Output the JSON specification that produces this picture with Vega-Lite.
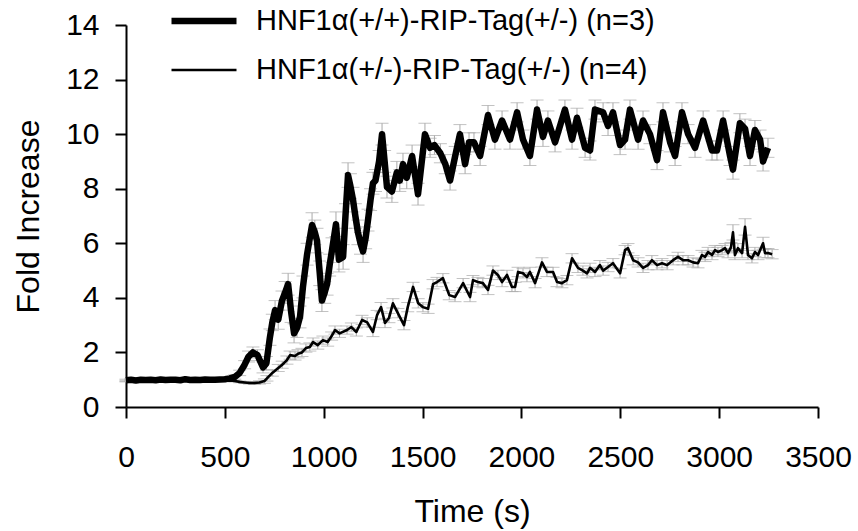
{
  "$schema": "https://vega.github.io/schema/vega-lite/v6.json",
  "width": 692,
  "height": 382,
  "autosize": "none",
  "padding": {"left": 126, "top": 25, "right": 40, "bottom": 124},
  "background": "white",
  "config": {
    "view": {"stroke": null},
    "font": "Liberation Sans",
    "axis": {
      "domainColor": "black", "tickColor": "black", "domainWidth": 2, "tickWidth": 2,
      "labelColor": "black", "titleColor": "black", "labelFont": "Liberation Sans", "titleFont": "Liberation Sans",
      "labelFontSize": 30, "titleFontSize": 32, "titleFontWeight": "normal", "grid": false, "tickSize": 11
    },
    "legend": {"labelFont": "Liberation Sans", "labelFontSize": 29, "labelColor": "black", "labelLimit": 0}
  },
  "data": {"values": [
    {"g":"A","t":0,"v":0.98,"e":0.04},{"g":"A","t":25,"v":1.0,"e":0.04},{"g":"A","t":50,"v":0.97,"e":0.04},{"g":"A","t":75,"v":1.0,"e":0.04},
    {"g":"A","t":100,"v":0.99,"e":0.04},{"g":"A","t":125,"v":1.0,"e":0.04},{"g":"A","t":150,"v":0.98,"e":0.04},{"g":"A","t":175,"v":1.01,"e":0.04},
    {"g":"A","t":200,"v":0.99,"e":0.04},{"g":"A","t":225,"v":1.0,"e":0.04},{"g":"A","t":250,"v":1.0,"e":0.04},{"g":"A","t":275,"v":0.98,"e":0.04},
    {"g":"A","t":300,"v":1.02,"e":0.04},{"g":"A","t":325,"v":0.99,"e":0.04},{"g":"A","t":350,"v":1.0,"e":0.04},{"g":"A","t":375,"v":0.99,"e":0.04},
    {"g":"A","t":400,"v":1.01,"e":0.04},{"g":"A","t":425,"v":1.0,"e":0.04},{"g":"A","t":450,"v":1.0,"e":0.04},{"g":"A","t":475,"v":1.01,"e":0.05},
    {"g":"A","t":500,"v":1.02,"e":0.05},{"g":"A","t":525,"v":1.05,"e":0.06},{"g":"A","t":550,"v":1.1,"e":0.08},{"g":"A","t":575,"v":1.25,"e":0.1},
    {"g":"A","t":600,"v":1.55,"e":0.15},{"g":"A","t":620,"v":1.85,"e":0.2},{"g":"A","t":642,"v":2.0,"e":0.2},{"g":"A","t":665,"v":1.9,"e":0.2},
    {"g":"A","t":693,"v":1.45,"e":0.2},{"g":"A","t":710,"v":1.6,"e":0.25},{"g":"A","t":728,"v":2.56,"e":0.3},{"g":"A","t":740,"v":3.1,"e":0.3},
    {"g":"A","t":754,"v":3.55,"e":0.35},{"g":"A","t":770,"v":3.2,"e":0.35},{"g":"A","t":789,"v":3.9,"e":0.35},{"g":"A","t":805,"v":4.2,"e":0.4},
    {"g":"A","t":820,"v":4.5,"e":0.4},{"g":"A","t":835,"v":3.5,"e":0.4},{"g":"A","t":850,"v":2.7,"e":0.35},{"g":"A","t":865,"v":2.9,"e":0.35},
    {"g":"A","t":880,"v":3.3,"e":0.4},{"g":"A","t":895,"v":4.4,"e":0.4},{"g":"A","t":916,"v":5.6,"e":0.4},{"g":"A","t":941,"v":6.67,"e":0.45},
    {"g":"A","t":955,"v":6.4,"e":0.45},{"g":"A","t":966,"v":6.1,"e":0.45},{"g":"A","t":980,"v":4.9,"e":0.45},{"g":"A","t":991,"v":3.9,"e":0.4},
    {"g":"A","t":1005,"v":4.2,"e":0.4},{"g":"A","t":1017,"v":4.5,"e":0.4},{"g":"A","t":1030,"v":5.2,"e":0.4},{"g":"A","t":1042,"v":5.75,"e":0.45},
    {"g":"A","t":1062,"v":6.7,"e":0.45},{"g":"A","t":1077,"v":5.4,"e":0.45},{"g":"A","t":1098,"v":5.5,"e":0.45},{"g":"A","t":1110,"v":7.0,"e":0.45},
    {"g":"A","t":1123,"v":8.5,"e":0.45},{"g":"A","t":1135,"v":8.1,"e":0.45},{"g":"A","t":1148,"v":7.6,"e":0.45},{"g":"A","t":1160,"v":7.0,"e":0.45},
    {"g":"A","t":1173,"v":6.4,"e":0.45},{"g":"A","t":1186,"v":6.0,"e":0.4},{"g":"A","t":1199,"v":5.7,"e":0.4},{"g":"A","t":1212,"v":6.2,"e":0.4},
    {"g":"A","t":1224,"v":6.85,"e":0.4},{"g":"A","t":1237,"v":7.6,"e":0.4},{"g":"A","t":1249,"v":8.2,"e":0.4},{"g":"A","t":1262,"v":8.3,"e":0.4},
    {"g":"A","t":1280,"v":9.0,"e":0.4},{"g":"A","t":1295,"v":10.0,"e":0.4},{"g":"A","t":1308,"v":9.0,"e":0.4},{"g":"A","t":1320,"v":8.06,"e":0.4},
    {"g":"A","t":1345,"v":7.9,"e":0.4},{"g":"A","t":1370,"v":8.6,"e":0.4},{"g":"A","t":1385,"v":8.3,"e":0.4},{"g":"A","t":1401,"v":8.9,"e":0.4},
    {"g":"A","t":1420,"v":8.4,"e":0.4},{"g":"A","t":1447,"v":9.2,"e":0.4},{"g":"A","t":1477,"v":7.8,"e":0.4},{"g":"A","t":1512,"v":10.0,"e":0.4},
    {"g":"A","t":1538,"v":9.5,"e":0.35},{"g":"A","t":1560,"v":9.6,"e":0.35},{"g":"A","t":1590,"v":9.3,"e":0.35},{"g":"A","t":1615,"v":8.9,"e":0.35},
    {"g":"A","t":1639,"v":8.3,"e":0.35},{"g":"A","t":1665,"v":9.2,"e":0.35},{"g":"A","t":1689,"v":10.0,"e":0.35},{"g":"A","t":1715,"v":8.9,"e":0.35},
    {"g":"A","t":1735,"v":9.7,"e":0.35},{"g":"A","t":1760,"v":9.7,"e":0.35},{"g":"A","t":1791,"v":9.2,"e":0.35},{"g":"A","t":1831,"v":10.7,"e":0.35},
    {"g":"A","t":1866,"v":9.8,"e":0.35},{"g":"A","t":1902,"v":10.5,"e":0.35},{"g":"A","t":1942,"v":9.8,"e":0.35},{"g":"A","t":1978,"v":10.8,"e":0.35},
    {"g":"A","t":2008,"v":9.8,"e":0.35},{"g":"A","t":2043,"v":9.2,"e":0.35},{"g":"A","t":2079,"v":10.9,"e":0.35},{"g":"A","t":2109,"v":9.9,"e":0.35},
    {"g":"A","t":2134,"v":10.5,"e":0.35},{"g":"A","t":2170,"v":9.7,"e":0.35},{"g":"A","t":2220,"v":10.9,"e":0.35},{"g":"A","t":2256,"v":9.8,"e":0.35},
    {"g":"A","t":2281,"v":10.6,"e":0.35},{"g":"A","t":2322,"v":9.5,"e":0.35},{"g":"A","t":2347,"v":9.4,"e":0.35},{"g":"A","t":2372,"v":10.9,"e":0.35},
    {"g":"A","t":2413,"v":10.8,"e":0.35},{"g":"A","t":2438,"v":10.3,"e":0.35},{"g":"A","t":2463,"v":10.8,"e":0.35},{"g":"A","t":2499,"v":9.6,"e":0.35},
    {"g":"A","t":2524,"v":9.8,"e":0.35},{"g":"A","t":2549,"v":10.9,"e":0.35},{"g":"A","t":2590,"v":9.8,"e":0.35},{"g":"A","t":2615,"v":10.5,"e":0.35},
    {"g":"A","t":2650,"v":10.0,"e":0.35},{"g":"A","t":2686,"v":9.05,"e":0.35},{"g":"A","t":2716,"v":10.8,"e":0.35},{"g":"A","t":2752,"v":9.7,"e":0.35},
    {"g":"A","t":2777,"v":9.2,"e":0.35},{"g":"A","t":2812,"v":10.8,"e":0.35},{"g":"A","t":2843,"v":10.0,"e":0.35},{"g":"A","t":2878,"v":9.5,"e":0.35},
    {"g":"A","t":2919,"v":10.5,"e":0.35},{"g":"A","t":2964,"v":9.4,"e":0.35},{"g":"A","t":2989,"v":9.4,"e":0.35},{"g":"A","t":3020,"v":10.5,"e":0.35},
    {"g":"A","t":3055,"v":9.2,"e":0.35},{"g":"A","t":3070,"v":8.7,"e":0.35},{"g":"A","t":3105,"v":10.4,"e":0.35},{"g":"A","t":3131,"v":10.2,"e":0.35},
    {"g":"A","t":3156,"v":9.2,"e":0.35},{"g":"A","t":3181,"v":10.15,"e":0.35},{"g":"A","t":3207,"v":9.8,"e":0.35},{"g":"A","t":3222,"v":9.0,"e":0.35},
    {"g":"A","t":3247,"v":9.5,"e":0.35},
    {"g":"B","t":0,"v":0.95,"e":0.03},{"g":"B","t":25,"v":0.97,"e":0.03},{"g":"B","t":50,"v":0.95,"e":0.03},{"g":"B","t":75,"v":0.96,"e":0.03},
    {"g":"B","t":100,"v":0.97,"e":0.03},{"g":"B","t":125,"v":0.96,"e":0.03},{"g":"B","t":150,"v":0.97,"e":0.03},{"g":"B","t":175,"v":0.95,"e":0.03},
    {"g":"B","t":200,"v":0.96,"e":0.03},{"g":"B","t":225,"v":0.97,"e":0.03},{"g":"B","t":250,"v":0.96,"e":0.03},{"g":"B","t":275,"v":0.98,"e":0.03},
    {"g":"B","t":300,"v":0.97,"e":0.03},{"g":"B","t":325,"v":0.96,"e":0.03},{"g":"B","t":350,"v":0.97,"e":0.03},{"g":"B","t":375,"v":0.98,"e":0.03},
    {"g":"B","t":400,"v":0.96,"e":0.03},{"g":"B","t":425,"v":0.95,"e":0.03},{"g":"B","t":450,"v":0.97,"e":0.03},{"g":"B","t":475,"v":0.96,"e":0.03},
    {"g":"B","t":500,"v":0.96,"e":0.03},{"g":"B","t":525,"v":0.97,"e":0.03},{"g":"B","t":550,"v":0.95,"e":0.03},{"g":"B","t":575,"v":0.92,"e":0.03},
    {"g":"B","t":600,"v":0.9,"e":0.04},{"g":"B","t":625,"v":0.88,"e":0.04},{"g":"B","t":650,"v":0.88,"e":0.05},{"g":"B","t":675,"v":0.9,"e":0.06},
    {"g":"B","t":700,"v":0.95,"e":0.08},{"g":"B","t":713,"v":1.05,"e":0.1},{"g":"B","t":740,"v":1.25,"e":0.12},{"g":"B","t":770,"v":1.43,"e":0.13},
    {"g":"B","t":790,"v":1.55,"e":0.13},{"g":"B","t":814,"v":1.72,"e":0.15},{"g":"B","t":830,"v":1.9,"e":0.15},{"g":"B","t":855,"v":1.87,"e":0.15},
    {"g":"B","t":870,"v":1.95,"e":0.15},{"g":"B","t":890,"v":2.0,"e":0.15},{"g":"B","t":910,"v":2.16,"e":0.15},{"g":"B","t":930,"v":2.2,"e":0.15},
    {"g":"B","t":946,"v":2.38,"e":0.15},{"g":"B","t":970,"v":2.27,"e":0.15},{"g":"B","t":996,"v":2.45,"e":0.15},{"g":"B","t":1020,"v":2.38,"e":0.15},
    {"g":"B","t":1040,"v":2.6,"e":0.15},{"g":"B","t":1057,"v":2.82,"e":0.15},{"g":"B","t":1080,"v":2.7,"e":0.15},{"g":"B","t":1118,"v":2.82,"e":0.15},
    {"g":"B","t":1140,"v":2.93,"e":0.15},{"g":"B","t":1165,"v":2.75,"e":0.15},{"g":"B","t":1194,"v":3.19,"e":0.17},{"g":"B","t":1220,"v":3.1,"e":0.17},
    {"g":"B","t":1249,"v":2.75,"e":0.17},{"g":"B","t":1270,"v":3.37,"e":0.17},{"g":"B","t":1290,"v":3.66,"e":0.17},{"g":"B","t":1310,"v":3.08,"e":0.17},
    {"g":"B","t":1330,"v":3.26,"e":0.17},{"g":"B","t":1350,"v":3.8,"e":0.17},{"g":"B","t":1375,"v":3.44,"e":0.17},{"g":"B","t":1406,"v":3.0,"e":0.17},
    {"g":"B","t":1425,"v":3.66,"e":0.17},{"g":"B","t":1452,"v":4.4,"e":0.17},{"g":"B","t":1478,"v":3.8,"e":0.17},{"g":"B","t":1502,"v":3.66,"e":0.17},
    {"g":"B","t":1528,"v":3.6,"e":0.17},{"g":"B","t":1553,"v":4.5,"e":0.17},{"g":"B","t":1573,"v":4.58,"e":0.17},{"g":"B","t":1603,"v":4.72,"e":0.17},
    {"g":"B","t":1635,"v":4.1,"e":0.17},{"g":"B","t":1664,"v":4.03,"e":0.17},{"g":"B","t":1705,"v":4.54,"e":0.17},{"g":"B","t":1740,"v":4.03,"e":0.17},
    {"g":"B","t":1755,"v":4.65,"e":0.17},{"g":"B","t":1780,"v":4.58,"e":0.17},{"g":"B","t":1805,"v":4.54,"e":0.17},{"g":"B","t":1831,"v":4.29,"e":0.17},
    {"g":"B","t":1856,"v":5.0,"e":0.17},{"g":"B","t":1881,"v":4.84,"e":0.17},{"g":"B","t":1902,"v":4.58,"e":0.17},{"g":"B","t":1927,"v":4.84,"e":0.17},
    {"g":"B","t":1952,"v":4.4,"e":0.17},{"g":"B","t":1968,"v":4.4,"e":0.17},{"g":"B","t":1983,"v":4.95,"e":0.17},{"g":"B","t":2008,"v":4.9,"e":0.17},
    {"g":"B","t":2028,"v":4.76,"e":0.17},{"g":"B","t":2043,"v":4.95,"e":0.17},{"g":"B","t":2069,"v":4.54,"e":0.17},{"g":"B","t":2104,"v":5.3,"e":0.17},
    {"g":"B","t":2129,"v":4.95,"e":0.17},{"g":"B","t":2160,"v":4.95,"e":0.17},{"g":"B","t":2180,"v":4.58,"e":0.17},{"g":"B","t":2205,"v":4.54,"e":0.17},
    {"g":"B","t":2230,"v":4.65,"e":0.17},{"g":"B","t":2256,"v":5.45,"e":0.17},{"g":"B","t":2286,"v":5.1,"e":0.17},{"g":"B","t":2311,"v":5.0,"e":0.17},
    {"g":"B","t":2332,"v":4.9,"e":0.17},{"g":"B","t":2347,"v":5.1,"e":0.17},{"g":"B","t":2372,"v":4.95,"e":0.17},{"g":"B","t":2397,"v":5.2,"e":0.17},
    {"g":"B","t":2413,"v":5.0,"e":0.17},{"g":"B","t":2438,"v":5.13,"e":0.17},{"g":"B","t":2463,"v":5.27,"e":0.17},{"g":"B","t":2499,"v":4.9,"e":0.17},
    {"g":"B","t":2524,"v":5.75,"e":0.17},{"g":"B","t":2539,"v":5.82,"e":0.17},{"g":"B","t":2565,"v":5.38,"e":0.17},{"g":"B","t":2590,"v":5.3,"e":0.17},
    {"g":"B","t":2615,"v":5.1,"e":0.17},{"g":"B","t":2640,"v":5.2,"e":0.17},{"g":"B","t":2660,"v":5.38,"e":0.17},{"g":"B","t":2686,"v":5.2,"e":0.17},
    {"g":"B","t":2711,"v":5.27,"e":0.17},{"g":"B","t":2737,"v":5.2,"e":0.17},{"g":"B","t":2767,"v":5.38,"e":0.17},{"g":"B","t":2792,"v":5.5,"e":0.17},
    {"g":"B","t":2817,"v":5.38,"e":0.17},{"g":"B","t":2843,"v":5.38,"e":0.17},{"g":"B","t":2868,"v":5.3,"e":0.17},{"g":"B","t":2893,"v":5.27,"e":0.17},
    {"g":"B","t":2913,"v":5.57,"e":0.17},{"g":"B","t":2929,"v":5.5,"e":0.17},{"g":"B","t":2944,"v":5.68,"e":0.17},{"g":"B","t":2964,"v":5.57,"e":0.17},
    {"g":"B","t":2979,"v":5.75,"e":0.17},{"g":"B","t":2994,"v":5.68,"e":0.17},{"g":"B","t":3015,"v":5.75,"e":0.17},{"g":"B","t":3030,"v":5.82,"e":0.17},
    {"g":"B","t":3045,"v":5.64,"e":0.17},{"g":"B","t":3060,"v":5.86,"e":0.17},{"g":"B","t":3070,"v":6.4,"e":0.28},{"g":"B","t":3080,"v":5.57,"e":0.17},
    {"g":"B","t":3095,"v":5.82,"e":0.17},{"g":"B","t":3116,"v":5.64,"e":0.17},{"g":"B","t":3131,"v":6.6,"e":0.3},{"g":"B","t":3146,"v":5.57,"e":0.17},
    {"g":"B","t":3166,"v":5.45,"e":0.17},{"g":"B","t":3181,"v":5.68,"e":0.17},{"g":"B","t":3197,"v":5.57,"e":0.17},{"g":"B","t":3222,"v":6.0,"e":0.22},
    {"g":"B","t":3232,"v":5.64,"e":0.17},{"g":"B","t":3247,"v":5.64,"e":0.17},{"g":"B","t":3268,"v":5.6,"e":0.17}
  ]},
  "layer": [
    {
      "mark": {"type": "errorbar", "color": "#a8a8a8", "thickness": 1, "ticks": {"size": 13, "color": "#a8a8a8", "strokeWidth": 1}},
      "encoding": {
        "x": {"field": "t", "type": "quantitative", "title": "Time (s)"},
        "y": {"field": "v", "type": "quantitative", "title": "Fold Increase"},
        "yError": {"field": "e"},
        "detail": {"field": "g"}
      }
    },
    {
      "mark": {"type": "line", "color": "black", "strokeJoin": "round", "strokeCap": "butt"},
      "encoding": {
        "x": {"field": "t", "type": "quantitative", "title": "Time (s)",
              "scale": {"domain": [0, 3500], "nice": false, "zero": true},
              "axis": {"values": [0, 500, 1000, 1500, 2000, 2500, 3000, 3500], "format": "d", "labelPadding": 24, "titlePadding": 24, "labelFlush": false, "labelOverlap": false}},
        "y": {"field": "v", "type": "quantitative", "title": "Fold Increase",
              "scale": {"domain": [0, 14], "nice": false},
              "axis": {"values": [0, 2, 4, 6, 8, 10, 12, 14], "labelPadding": 16, "titlePadding": 20}},
        "detail": {"field": "g"},
        "strokeWidth": {
          "field": "g", "type": "nominal",
          "scale": {"domain": ["A", "B"], "range": [6.5, 2.6]},
          "legend": {
            "title": null, "orient": "none", "legendX": 42, "legendY": -40, "padding": 0,
            "symbolType": "stroke", "symbolSize": 4225, "symbolStrokeColor": "black",
            "labelOffset": 16, "rowPadding": -20,
            "labelExpr": "datum.value == 'A' ? 'HNF1α(+/+)-RIP-Tag(+/-) (n=3)' : 'HNF1α(+/-)-RIP-Tag(+/-) (n=4)'"
          }
        }
      }
    }
  ]
}
